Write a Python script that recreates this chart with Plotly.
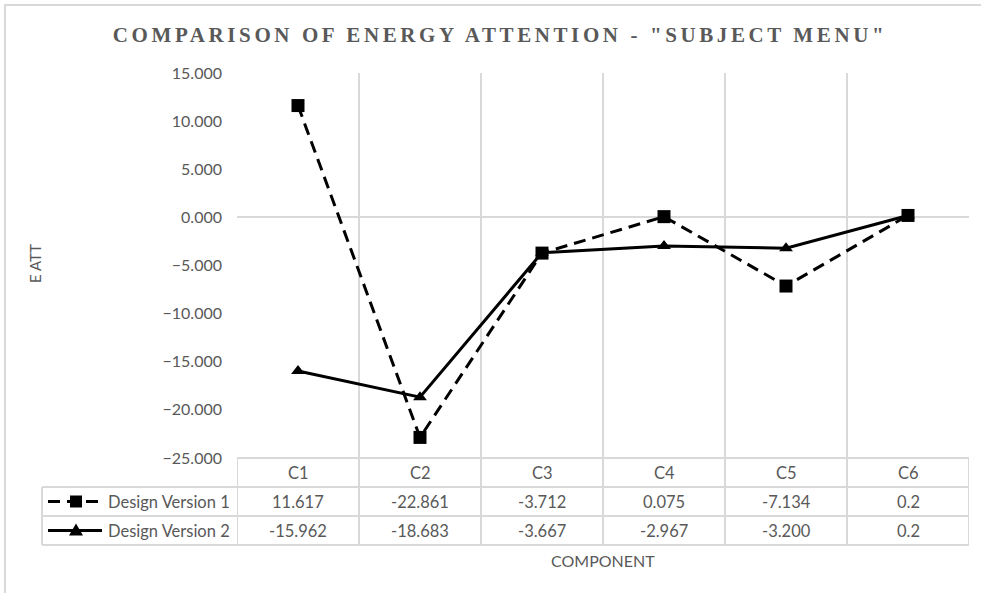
import plotly.graph_objects as go

categories = ["C1", "C2", "C3", "C4", "C5", "C6"]
series_names = ["Design Version 1", "Design Version 2"]
v1 = [11.617, -22.861, -3.712, 0.075, -7.134, 0.2]
v2 = [-15.962, -18.683, -3.667, -2.967, -3.200, 0.2]
v1_labels = ["11.617", "-22.861", "-3.712", "0.075", "-7.134", "0.2"]
v2_labels = ["-15.962", "-18.683", "-3.667", "-2.967", "-3.200", "0.2"]

W, H = 981, 593
L, R, T, B = 237, 969, 73, 458
TXT = "#595959"
GRID = "#d9d9d9"
FONT = "Lato"
TS = 16.5

def px(x):
    return (x - L) / (R - L)

def py(y):
    return (B - y) / (B - T)

fig = go.Figure()
fig.add_trace(go.Scatter(
    x=categories, y=v1, name=series_names[0], mode="lines+markers",
    line=dict(color="black", width=3, dash="12px,7px"),
    marker=dict(symbol="square", size=13, color="black"),
))
fig.add_trace(go.Scatter(
    x=categories, y=v2, name=series_names[1], mode="lines+markers",
    line=dict(color="black", width=3),
    marker=dict(symbol="triangle-up", size=12, color="black"),
))

shapes = []
# outer chart border
shapes.append(dict(type="rect", xref="paper", yref="paper",
                   x0=px(5), x1=px(990), y0=py(5), y1=py(600),
                   line=dict(color=GRID, width=2), layer="below"))
# table horizontal lines
shapes.append(dict(type="line", xref="paper", yref="paper",
                   x0=0, x1=1, y0=py(B), y1=py(B), line=dict(color=GRID, width=2)))
for yy in (487, 516, 545):
    shapes.append(dict(type="line", xref="paper", yref="paper",
                       x0=px(42), x1=1, y0=py(yy), y1=py(yy), line=dict(color=GRID, width=2)))
# table vertical lines (category boundaries)
for i in range(len(categories) + 1):
    shapes.append(dict(type="line", xref="x", yref="paper",
                       x0=i - 0.5, x1=i - 0.5, y0=py(B), y1=py(545),
                       line=dict(color=GRID, width=2)))
shapes.append(dict(type="line", xref="paper", yref="paper",
                   x0=px(42), x1=px(42), y0=py(487), y1=py(545),
                   line=dict(color=GRID, width=2)))
# legend keys
r1, r2 = 501.5, 530.5
shapes.append(dict(type="line", xref="paper", yref="paper",
                   x0=px(48), x1=px(100), y0=py(r1), y1=py(r1),
                   line=dict(color="black", width=3, dash="12px,7px")))
shapes.append(dict(type="rect", xref="paper", yref="paper",
                   x0=px(70), x1=px(82), y0=py(r1 - 6), y1=py(r1 + 6),
                   fillcolor="black", line=dict(width=0)))
shapes.append(dict(type="line", xref="paper", yref="paper",
                   x0=px(48), x1=px(102), y0=py(r2), y1=py(r2),
                   line=dict(color="black", width=3)))
shapes.append(dict(type="path", xref="paper", yref="paper",
                   path=f"M {px(69)},{py(r2 + 5)} L {px(83)},{py(r2 + 5)} L {px(76)},{py(r2 - 7)} Z",
                   fillcolor="black", line=dict(width=0)))

annotations = []
hdr = 472.5
def ann(x, xref, y, text, size=TS, xanchor="center", angle=0):
    return dict(x=x, xref=xref, y=py(y), yref="paper", text=text, showarrow=False,
                xanchor=xanchor, yanchor="middle", textangle=angle,
                font=dict(family=FONT, size=size, color=TXT))

for i, c in enumerate(categories):
    annotations.append(ann(i, "x", hdr, c))
    annotations.append(ann(i, "x", r1, v1_labels[i]))
    annotations.append(ann(i, "x", r2, v2_labels[i]))
for nm, rr in zip(series_names, (r1, r2)):
    annotations.append(ann(px(106), "paper", rr, nm, xanchor="left"))
annotations.append(ann(0.5, "paper", 560, "COMPONENT", size=16))
annotations.append(ann(px(35), "paper", 264, "E ATT", size=15, angle=-90))

fig.update_layout(
    width=W, height=H,
    margin=dict(l=L, r=W - R, t=T, b=H - B),
    paper_bgcolor="white", plot_bgcolor="white",
    showlegend=False,
    title=dict(text='COMPARISON OF ENERGY ATTENTION - "SUBJECT MENU"',
               x=500 / W, xanchor="center", xref="container", y=1 - 35 / H, yanchor="middle",
               yref="container",
               font=dict(family="Liberation Serif", size=21, color=TXT, weight="bold")),
    shapes=shapes, annotations=annotations,
)
fig.update_xaxes(type="category", range=[-0.5, 5.5], tickson="boundaries",
                 showgrid=True, gridcolor=GRID, gridwidth=2, showticklabels=False,
                 ticks="", showline=False, zeroline=False, fixedrange=True)
fig.update_yaxes(range=[-25, 15], dtick=5, tickformat=".3f", showgrid=False,
                 zeroline=True, zerolinecolor=GRID, zerolinewidth=2, showline=False,
                 ticks="", ticklabelstandoff=14,
                 tickfont=dict(family=FONT, size=16, color=TXT), fixedrange=True)

post = (
    "document.body.style.margin='0';"
    "var t=document.querySelector('.gtitle'); if(t){t.style.letterSpacing='3.6px';}"
)
fig.write_html("out.html", post_script=post, config={"displayModeBar": False})
